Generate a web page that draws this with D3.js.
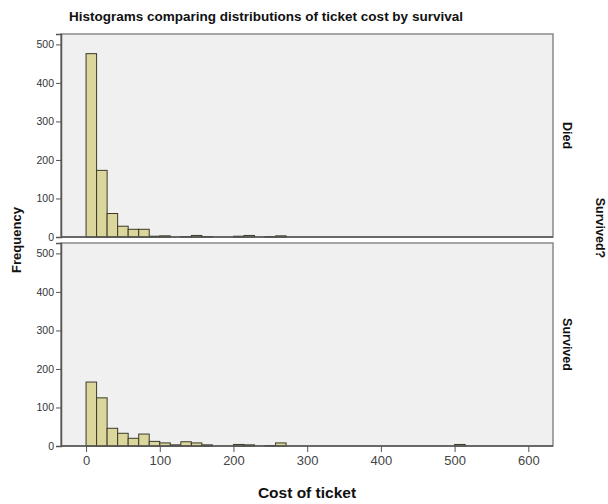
<!DOCTYPE html>
<html><head><meta charset="utf-8">
<script src="https://cdn.jsdelivr.net/npm/d3@7/dist/d3.min.js"></script>
<style>body{margin:0;background:#fff;} svg{display:block;font-family:"Liberation Sans",Arial,sans-serif;}</style>
</head><body>
<svg id="c" width="608" height="504"></svg>
<script>
const title = "Histograms comparing distributions of ticket cost by survival";
const xTicks = [0, 100, 200, 300, 400, 500, 600];
const yTicks = [0, 100, 200, 300, 400, 500];
const groups = ["Died", "Survived"];
const binWidth = 100 / 7;
const diedCounts = [476,173,61,28,20,20,2,3,0,1,4,1,0,0,2,4,0,1,3,0,0,0,0,0,0,0,0,0,0,0,0,0,0,0,0,0];
const survivedCounts = [166,125,46,33,20,31,12,8,3,11,8,3,0,0,4,3,0,1,8,0,0,0,0,0,0,0,0,0,0,0,0,0,0,0,0,4];
const series = [diedCounts, survivedCounts];

const svg = d3.select("#c");
const left = 61, right = 553;
const panels = [{top: 34, bottom: 237}, {top: 243, bottom: 446}];
const x = d3.scaleLinear().domain([-34, 633.5]).range([left, right]);

svg.append("text").attr("x", 266).attr("y", 21).attr("text-anchor", "middle")
  .attr("font-size", 13.5).attr("font-weight", "bold").attr("fill", "#111").text(title);

panels.forEach((p, gi) => {
  const y = d3.scaleLinear().domain([0, 527]).range([p.bottom, p.top]);
  const g = svg.append("g");
  g.append("rect").attr("x", left).attr("y", p.top).attr("width", right - left).attr("height", p.bottom - p.top)
    .attr("fill", "#f0f0f0").attr("stroke", "#8a8a8a").attr("stroke-width", 1.5);
  const data = series[gi].map((c, i) => ({x0: i * binWidth, x1: (i + 1) * binWidth, c})).filter(d => d.c > 0);
  g.selectAll("rect.bar").data(data).enter().append("rect").attr("class", "bar")
    .attr("x", d => x(d.x0)).attr("width", d => x(d.x1) - x(d.x0))
    .attr("y", d => y(d.c)).attr("height", d => y(0) - y(d.c))
    .attr("fill", "#dbd69c").attr("stroke", "#3a3a2a").attr("stroke-width", 1);
  const ya = d3.axisLeft(y).tickValues(yTicks).tickSize(5).tickPadding(2);
  const yg = g.append("g").attr("transform", `translate(${left},0)`).call(ya);
  yg.select(".domain").attr("stroke", "#555").attr("stroke-width", 1.5);
  yg.selectAll(".tick line").attr("stroke", "#555");
  yg.selectAll(".tick text").attr("font-size", 10.5).attr("fill", "#333").attr("font-family", "'Liberation Sans',Arial,sans-serif");
  g.append("line").attr("x1", left).attr("x2", right).attr("y1", p.bottom).attr("y2", p.bottom)
    .attr("stroke", "#555").attr("stroke-width", 1.5);
  svg.append("text").attr("transform", `translate(563,${(p.top + p.bottom) / 2}) rotate(90)`)
    .attr("text-anchor", "middle").attr("font-size", 12.5).attr("font-weight", "bold").attr("fill", "#111").text(groups[gi]);
});

const xa = d3.axisBottom(x).tickValues(xTicks).tickSize(6).tickPadding(4);
const xg = svg.append("g").attr("transform", `translate(0,${panels[1].bottom})`).call(xa);
xg.select(".domain").remove();
xg.selectAll(".tick line").attr("stroke", "#555");
xg.selectAll(".tick text").attr("font-size", 13).attr("fill", "#444").attr("font-family", "'Liberation Sans',Arial,sans-serif");

svg.append("text").attr("x", 307).attr("y", 498).attr("text-anchor", "middle")
  .attr("font-size", 15.5).attr("font-weight", "bold").attr("fill", "#111").text("Cost of ticket");
svg.append("text").attr("transform", "translate(21,240) rotate(-90)").attr("text-anchor", "middle")
  .attr("font-size", 13).attr("font-weight", "bold").attr("fill", "#111").text("Frequency");
svg.append("text").attr("transform", "translate(596,228) rotate(90)").attr("text-anchor", "middle")
  .attr("font-size", 12.5).attr("font-weight", "bold").attr("fill", "#111").text("Survived?");
</script>
</body></html>
